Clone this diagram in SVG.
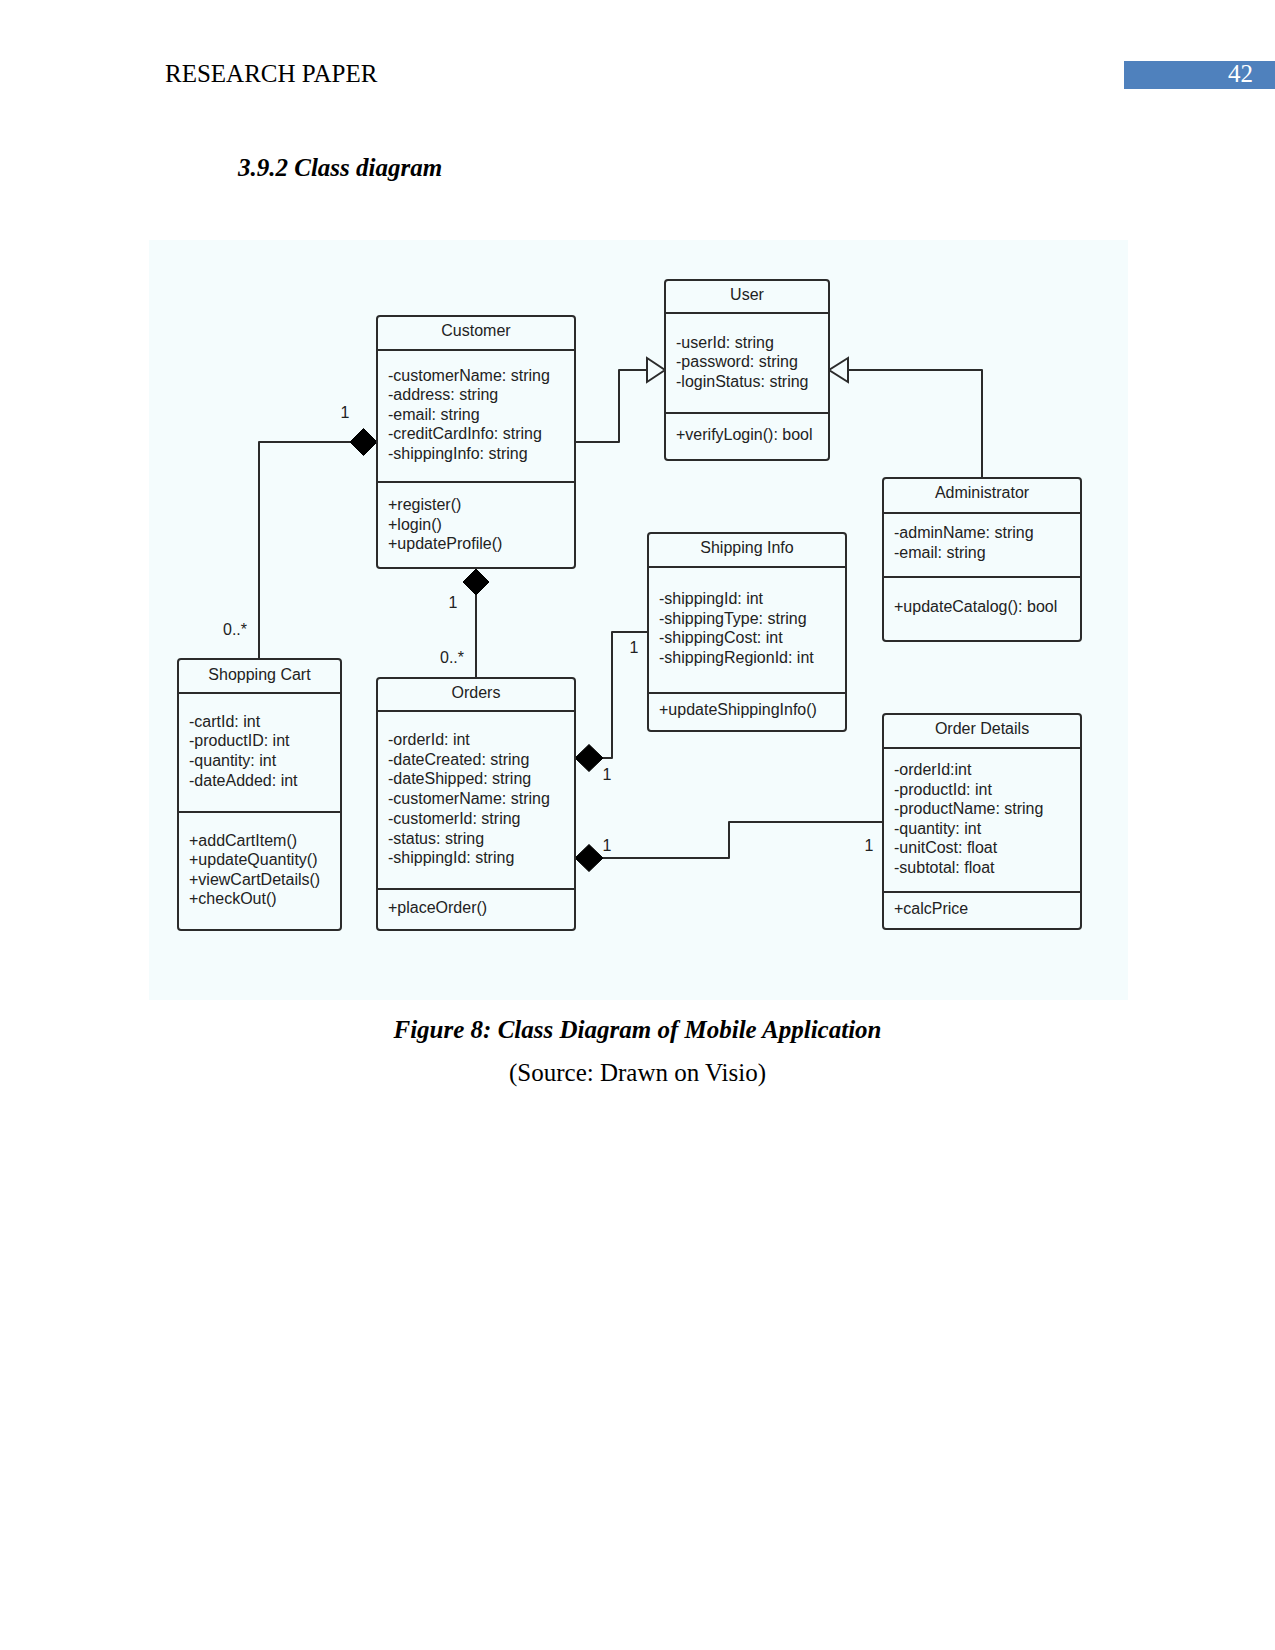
<svg xmlns="http://www.w3.org/2000/svg" width="1275" height="1650" viewBox="0 0 1275 1650">
<defs>
<style>
.page{font-family:"Liberation Serif","Times New Roman",serif;fill:#000}
.box{fill:#f4fcfd;stroke:#2b2b2b;stroke-width:2}
.div{stroke:#2b2b2b;stroke-width:2}
.t{font-family:"Liberation Sans",Arial,sans-serif;font-size:16px;fill:#222}
.title{text-anchor:middle}
.conn{fill:none;stroke:#2b2b2b;stroke-width:2;stroke-linejoin:round}
.dia{fill:#000;stroke:#000;stroke-width:1}
.tri{fill:#f4fcfd;stroke:#2b2b2b;stroke-width:2;stroke-linejoin:miter}
</style>
</defs>
<rect width="1275" height="1650" fill="#fff"/>
<text class="page" x="165" y="82" font-size="25">RESEARCH PAPER</text>
<rect x="1124" y="61" width="151" height="28" fill="#4f81bd"/>
<text class="page" x="1253" y="82" font-size="25" text-anchor="end" style="fill:#fff">42</text>
<text class="page" x="238" y="176" font-size="25" font-weight="bold" font-style="italic">3.9.2 Class diagram</text>

<rect x="149" y="240" width="979" height="760" fill="#f4fcfd"/>

<g id="connectors">
<path class="conn" d="M259,659 V442 H350"/>
<polygon class="dia" points="350,442 363.5,428.5 377,442 363.5,455.5"/>
<path class="conn" d="M575,442 H619 V370 H647"/>
<polygon class="tri" points="647,358 665,370 647,382"/>
<path class="conn" d="M982,478 V370 H848"/>
<polygon class="tri" points="848,358 829,370 848,382"/>
<polygon class="dia" points="463,582 476,569 489,582 476,595"/>
<path class="conn" d="M476,595 V678"/>
<polygon class="dia" points="575,758 589,744.5 603,758 589,771.5"/>
<path class="conn" d="M603,758 H612 V632 H648"/>
<polygon class="dia" points="575,858 589,844.5 603,858 589,871.5"/>
<path class="conn" d="M603,858 H729 V822 H883"/>
<text class="t" x="345" y="418" text-anchor="middle">1</text>
<text class="t" x="223" y="635">0..*</text>
<text class="t" x="453" y="608" text-anchor="middle">1</text>
<text class="t" x="440" y="663">0..*</text>
<text class="t" x="634" y="653" text-anchor="middle">1</text>
<text class="t" x="607" y="780" text-anchor="middle">1</text>
<text class="t" x="607" y="851" text-anchor="middle">1</text>
<text class="t" x="869" y="851" text-anchor="middle">1</text>
</g>

<g id="customer">
<rect class="box" x="377" y="316" width="198" height="252" rx="3"/>
<line class="div" x1="377" y1="350" x2="575" y2="350"/>
<line class="div" x1="377" y1="482" x2="575" y2="482"/>
<text class="t title" x="476" y="336">Customer</text>
<text class="t" x="388" y="380.5">-customerName: string</text>
<text class="t" x="388" y="400.1">-address: string</text>
<text class="t" x="388" y="419.7">-email: string</text>
<text class="t" x="388" y="439.3">-creditCardInfo: string</text>
<text class="t" x="388" y="458.9">-shippingInfo: string</text>
<text class="t" x="388" y="510">+register()</text>
<text class="t" x="388" y="529.6">+login()</text>
<text class="t" x="388" y="549.2">+updateProfile()</text>
</g>

<g id="user">
<rect class="box" x="665" y="280" width="164" height="180" rx="3"/>
<line class="div" x1="665" y1="313" x2="829" y2="313"/>
<line class="div" x1="665" y1="413" x2="829" y2="413"/>
<text class="t title" x="747" y="300">User</text>
<text class="t" x="676" y="348">-userId: string</text>
<text class="t" x="676" y="367.3">-password: string</text>
<text class="t" x="676" y="386.6">-loginStatus: string</text>
<text class="t" x="676" y="440">+verifyLogin(): bool</text>
</g>

<g id="administrator">
<rect class="box" x="883" y="478" width="198" height="163" rx="3"/>
<line class="div" x1="883" y1="513" x2="1081" y2="513"/>
<line class="div" x1="883" y1="577" x2="1081" y2="577"/>
<text class="t title" x="982" y="498">Administrator</text>
<text class="t" x="894" y="538.3">-adminName: string</text>
<text class="t" x="894" y="558">-email: string</text>
<text class="t" x="894" y="612.3">+updateCatalog(): bool</text>
</g>

<g id="shipping-info">
<rect class="box" x="648" y="533" width="198" height="198" rx="3"/>
<line class="div" x1="648" y1="567" x2="846" y2="567"/>
<line class="div" x1="648" y1="693" x2="846" y2="693"/>
<text class="t title" x="747" y="553">Shipping Info</text>
<text class="t" x="659" y="604">-shippingId: int</text>
<text class="t" x="659" y="623.6">-shippingType: string</text>
<text class="t" x="659" y="643.2">-shippingCost: int</text>
<text class="t" x="659" y="662.8">-shippingRegionId: int</text>
<text class="t" x="659" y="715">+updateShippingInfo()</text>
</g>

<g id="order-details">
<rect class="box" x="883" y="714" width="198" height="215" rx="3"/>
<line class="div" x1="883" y1="748" x2="1081" y2="748"/>
<line class="div" x1="883" y1="892" x2="1081" y2="892"/>
<text class="t title" x="982" y="733.5">Order Details</text>
<text class="t" x="894" y="775">-orderId:int</text>
<text class="t" x="894" y="794.5">-productId: int</text>
<text class="t" x="894" y="814">-productName: string</text>
<text class="t" x="894" y="833.5">-quantity: int</text>
<text class="t" x="894" y="853">-unitCost: float</text>
<text class="t" x="894" y="872.5">-subtotal: float</text>
<text class="t" x="894" y="914">+calcPrice</text>
</g>

<g id="shopping-cart">
<rect class="box" x="178" y="659" width="163" height="271" rx="3"/>
<line class="div" x1="178" y1="693" x2="341" y2="693"/>
<line class="div" x1="178" y1="812" x2="341" y2="812"/>
<text class="t title" x="259.5" y="679.5">Shopping Cart</text>
<text class="t" x="189" y="726.7">-cartId: int</text>
<text class="t" x="189" y="746.4">-productID: int</text>
<text class="t" x="189" y="766.1">-quantity: int</text>
<text class="t" x="189" y="785.8">-dateAdded: int</text>
<text class="t" x="189" y="845.7">+addCartItem()</text>
<text class="t" x="189" y="865.2">+updateQuantity()</text>
<text class="t" x="189" y="884.7">+viewCartDetails()</text>
<text class="t" x="189" y="904.2">+checkOut()</text>
</g>

<g id="orders">
<rect class="box" x="377" y="678" width="198" height="252" rx="3"/>
<line class="div" x1="377" y1="711" x2="575" y2="711"/>
<line class="div" x1="377" y1="889" x2="575" y2="889"/>
<text class="t title" x="476" y="697.5">Orders</text>
<text class="t" x="388" y="745">-orderId: int</text>
<text class="t" x="388" y="764.7">-dateCreated: string</text>
<text class="t" x="388" y="784.4">-dateShipped: string</text>
<text class="t" x="388" y="804.1">-customerName: string</text>
<text class="t" x="388" y="823.8">-customerId: string</text>
<text class="t" x="388" y="843.5">-status: string</text>
<text class="t" x="388" y="863.2">-shippingId: string</text>
<text class="t" x="388" y="913.3">+placeOrder()</text>
</g>

<text class="page" x="637.5" y="1038" font-size="25" font-weight="bold" font-style="italic" text-anchor="middle">Figure 8: Class Diagram of Mobile Application</text>
<text class="page" x="637.5" y="1081" font-size="25" text-anchor="middle">(Source: Drawn on Visio)</text>
</svg>
